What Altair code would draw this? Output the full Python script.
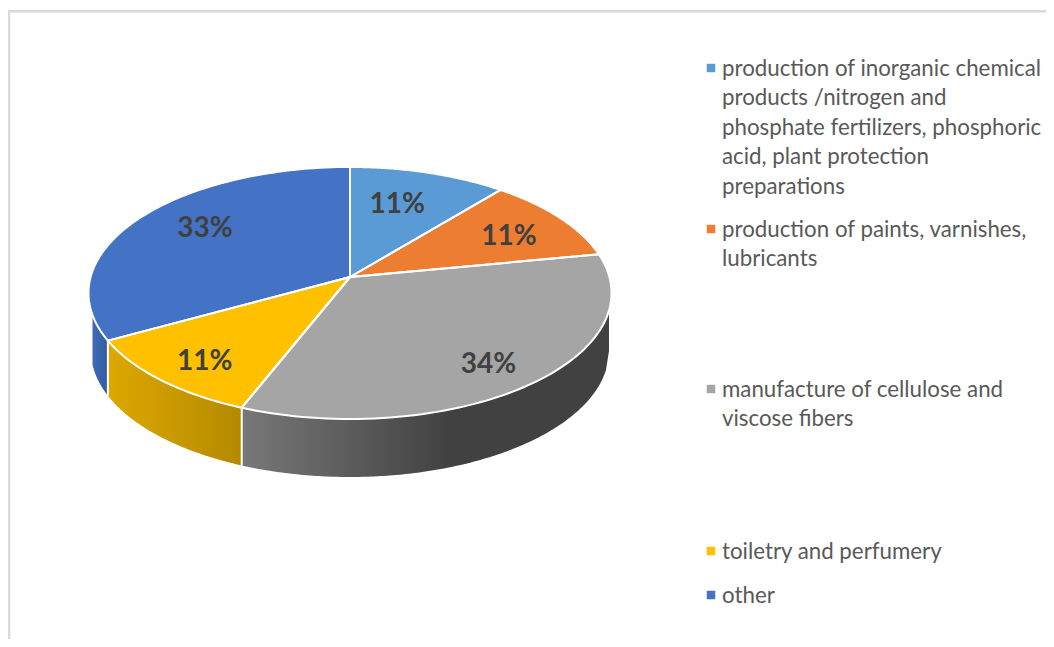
import numpy as np
import pandas as pd
import altair as alt

# ---- values ----
categories = ["inorganic", "paints", "cellulose", "toiletry", "other"]
shares = [11, 11, 34, 11, 33]
colors = ["#5b9bd5", "#ed7d31", "#a5a5a5", "#ffc000", "#4472c4"]
legend_lines = [
    ["production of inorganic chemical", "products /nitrogen and", "phosphate fertilizers, phosphoric",
     "acid, plant protection", "preparations"],
    ["production of paints, varnishes,", "lubricants"],
    ["manufacture of cellulose and", "viscose fibers"],
    ["toiletry and perfumery"],
    ["other"],
]

# ---- layout constants ----
CX, APEX_Y = 350.0, 277.0
R, H, K = 259.4, 124.0, 0.127
RIM_CY, RIM_RX, RIM_RY = 293.0, 261.5, 126.0
LOW_CY, LOW_RX, LOW_RY = 351.0, 259.0, 126.0
LEGEND_Y = [68, 229, 389, 551, 595]
LINE_PITCH = 29.4
LABEL_OFFSETS = [(-2, -7), (30, -4), (33, 27), (-36, 26), (-16, -12)]


def project(t, f=1.0):
    u, v = f * np.sin(t), f * np.cos(t)
    w = 1 + K * v
    return CX + R * u / w, APEX_Y - H * v / w


cum = np.concatenate([[0], np.cumsum(shares)]) / sum(shares) * 2 * np.pi


def sector_polygon(a, b):
    ts = np.linspace(a, b, 80)
    xs, ys = project(ts)
    return np.r_[CX, xs, CX], np.r_[APEX_Y, ys, APEX_Y]


def fill_band(px, py, n=200):
    grid = np.linspace(px.min(), px.max(), n)
    top, bot = [], []
    for x in grid:
        hits = []
        for i in range(len(px) - 1):
            x0, x1, y0, y1 = px[i], px[i + 1], py[i], py[i + 1]
            if min(x0, x1) - 1e-9 <= x <= max(x0, x1) + 1e-9:
                if abs(x1 - x0) < 1e-9:
                    hits += [y0, y1]
                else:
                    hits.append(y0 + (y1 - y0) * (x - x0) / (x1 - x0))
        top.append(min(hits))
        bot.append(max(hits))
    return grid, top, bot


top_rows, line_rows = [], []
for i, c in enumerate(categories):
    px, py = sector_polygon(cum[i], cum[i + 1])
    g, t, b = fill_band(px, py)
    top_rows += [dict(cat=c, x=x, y=y, y2=y2) for x, y, y2 in zip(g, t, b)]
    line_rows += [dict(cat=c, o=k, x=x, y=y) for k, (x, y) in enumerate(zip(px, py))]
top_df = pd.DataFrame(top_rows)
line_df = pd.DataFrame(line_rows)


def wall(x0, x1):
    xs = np.linspace(x0, x1, 120)
    y = RIM_CY + RIM_RY * np.sqrt(np.clip(1 - ((xs - CX) / RIM_RX) ** 2, 0, 1))
    y2 = LOW_CY + LOW_RY * np.sqrt(np.clip(1 - ((xs - CX) / LOW_RX) ** 2, 0, 1))
    return pd.DataFrame(dict(x=xs, y=y, y2=y2))


bx = [float(project(a)[0]) for a in cum]
sx = alt.Scale(domain=[8, 1046], range=[0, 1038])
sy = alt.Scale(domain=[8, 639], range=[0, 631])
X = alt.X("x:Q", scale=sx, axis=None)
Y = alt.Y("y:Q", scale=sy, axis=None)


def grad(stops):
    return alt.Gradient(
        gradient="linear", x1=0, x2=1, y1=0, y2=0,
        stops=[alt.GradientStop(offset=o, color=c) for o, c in stops],
    )


wall_blue = alt.Chart(wall(CX - LOW_RX + 1.5, bx[4])).mark_area(
    color=grad([(0, "#3e6cba"), (1, "#345d9f")])
).encode(X, Y, y2="y2:Q")
wall_yellow = alt.Chart(wall(bx[4], bx[3])).mark_area(
    color=grad([(0, "#dca800"), (1, "#b58900")])
).encode(X, Y, y2="y2:Q")
wall_gray = alt.Chart(wall(bx[3], CX + LOW_RX)).mark_area(
    color=grad([(0, "#787878"), (0.57, "#414141"), (1, "#414141")])
).encode(X, Y, y2="y2:Q")

sep_rows = []
for k, xv in enumerate([bx[3], bx[4]]):
    w = wall(xv, xv + 0.001).iloc[0]
    sep_rows.append(dict(x=xv, y=w.y, y2=w.y2))
seps = alt.Chart(pd.DataFrame(sep_rows)).mark_rule(color="white", strokeWidth=2).encode(X, Y, y2="y2:Q")

tops = alt.Chart(top_df).mark_area(interpolate="linear").encode(
    X, Y, y2="y2:Q",
    color=alt.Color("cat:N", scale=alt.Scale(domain=categories, range=colors), legend=None),
    detail="cat:N",
)
edges = alt.Chart(line_df).mark_line(color="white", strokeWidth=2, strokeJoin="round").encode(
    X, Y, detail="cat:N", order="o:Q"
)

lab_rows = []
for i, s in enumerate(shares):
    lx, ly = project((cum[i] + cum[i + 1]) / 2, 0.6)
    lab_rows.append(dict(x=lx + LABEL_OFFSETS[i][0], y=ly + LABEL_OFFSETS[i][1], t=f"{s}%"))
labels = alt.Chart(pd.DataFrame(lab_rows)).mark_text(
    font="Lato", fontSize=28, fontWeight="bold", color="#404040", align="center", baseline="middle"
).encode(X, Y, text="t:N")

leg_sq, leg_tx = [], []
for i, lines in enumerate(legend_lines):
    leg_sq.append(dict(x=711, y=LEGEND_Y[i], cat=categories[i]))
    for j, t in enumerate(lines):
        leg_tx.append(dict(x=722, y=LEGEND_Y[i] + 1 + j * LINE_PITCH, t=t))
squares = alt.Chart(pd.DataFrame(leg_sq)).mark_square(size=72, opacity=1).encode(
    X, Y, color=alt.Color("cat:N", scale=alt.Scale(domain=categories, range=colors), legend=None)
)
texts = alt.Chart(pd.DataFrame(leg_tx)).mark_text(
    font="Lato", fontSize=22.3, color="#595959", align="left", baseline="middle"
).encode(X, Y, text="t:N")

border_h = alt.Chart(pd.DataFrame(dict(x=[8], x2=[1046], y=[11.3]))).mark_rule(
    color="#d9d9d9", strokeWidth=2.5
).encode(X, x2="x2:Q", y=Y)
border_v = alt.Chart(pd.DataFrame(dict(x=[9], y=[10], y2=[639]))).mark_rule(
    color="#d9d9d9", strokeWidth=2.5
).encode(X, Y, y2="y2:Q")

chart = alt.layer(
    border_h, border_v, wall_blue, wall_yellow, wall_gray, seps, tops, edges, labels, squares, texts
).properties(
    width=1038, height=631, padding=0, background="white",
    autosize=alt.AutoSizeParams(type="none"),
).configure_view(stroke=None)

chart.save("out.html", embed_options={"renderer": "svg", "actions": False})
